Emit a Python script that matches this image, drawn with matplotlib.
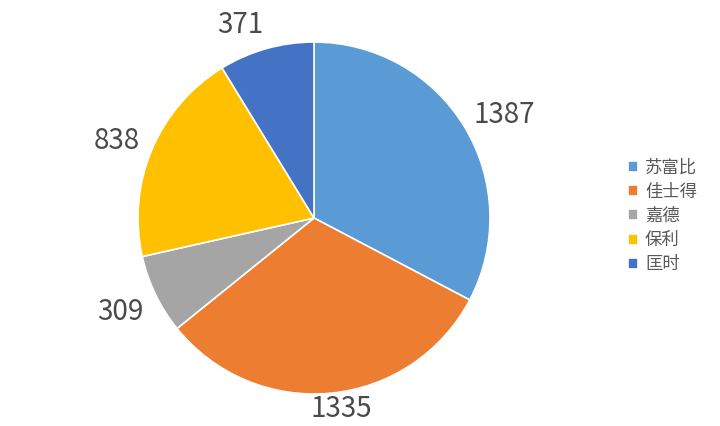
import matplotlib
matplotlib.use("Agg")
import matplotlib.pyplot as plt
import numpy as np

plt.rcParams['font.family'] = ['Noto Sans CJK SC', 'DejaVu Sans']

categories = ['苏富比', '佳士得', '嘉德', '保利', '匡时']
values = [1387, 1335, 309, 838, 371]
colors = ['#5B9BD5', '#ED7D31', '#A5A5A5', '#FFC000', '#4472C4']
# label placement (distance in radii, angular nudge in degrees)
label_dist = [1.238, 1.076, 1.214, 1.209, 1.196]
label_nudge = [-1.8, 2.6, -0.7, 0.7, 4.9]

W, H = 720, 426
fig = plt.figure(figsize=(W / 100, H / 100), dpi=100)
cx, cy, r = 314, 426 - 218, 176
ax = fig.add_axes([(cx - r) / W, (cy - r) / H, 2 * r / W, 2 * r / H])

wedges, _ = ax.pie(values, colors=colors, startangle=90, counterclock=False,
                   radius=1, wedgeprops=dict(edgecolor='white', linewidth=1.2))
ax.set_xlim(-1, 1)
ax.set_ylim(-1, 1)
ax.axis('off')

for w, v, d, n in zip(wedges, values, label_dist, label_nudge):
    ang = np.deg2rad((w.theta1 + w.theta2) / 2 + n)
    ax.text(d * np.cos(ang), d * np.sin(ang), str(v), ha='center', va='center_baseline',
            fontsize=20, color='#4a4a4a', clip_on=False)

leg = fig.legend(wedges, categories, loc='center left', bbox_to_anchor=(612 / W, 1 - 216 / H),
                 frameon=False, fontsize=12.5, handlelength=0.6, handleheight=0.6,
                 handletextpad=0.4, labelspacing=0.36, labelcolor='#595959')

fig.savefig('out.png', dpi=100)
